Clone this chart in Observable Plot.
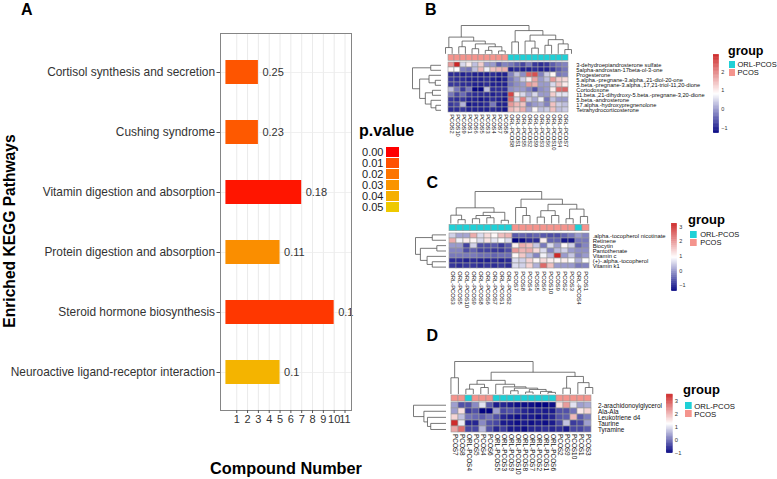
<!DOCTYPE html>
<html><head><meta charset="utf-8">
<script src="https://cdn.jsdelivr.net/npm/d3@7"></script>
<script src="https://cdn.jsdelivr.net/npm/@observablehq/plot@0.6"></script>
<style>
body{margin:0;background:#fff;}
#c{position:relative;width:777px;height:479px;overflow:hidden;background:#fff;}
#c svg{position:absolute;left:0;top:0;overflow:visible;max-width:none;}
</style></head><body><div id="c"></div><script>
// ---------- Panel A data ----------
const pathways = ["Cortisol synthesis and secretion","Cushing syndrome","Vitamin digestion and absorption","Protein digestion and absorption","Steroid hormone biosynthesis","Neuroactive ligand-receptor interaction"];
const compoundNumber = [3,3,7,5,10,5];
const pValue = [0.011,0.012,0.001,0.028,0.005,0.042];
const ratioLabel = ["0.25","0.23","0.18","0.11","0.1","0.1"];
const xTicks = [1,2,3,4,5,6,7,8,9,10,11];
const legendBreaks = [0,0.01,0.02,0.03,0.04,0.05];
const legendLabels = ["0.00","0.01","0.02","0.03","0.04","0.05"];

// ---------- Panel B data ----------
const bCols = ["PCOS2","PCOS10","PCOS9","PCOS1","PCOS6","PCOS5","PCOS3","PCOS4","PCOS7","PCOS8","ORL-PCOS8","ORL-PCOS1","ORL-PCOS5","ORL-PCOS2","ORL-PCOS9","ORL-PCOS3","ORL-PCOS6","ORL-PCOS10","ORL-PCOS4","ORL-PCOS7"];
const bRows = ["3-dehydroepiandrosterone sulfate","5alpha-androstan-17beta-ol-3-one","Progesterone","5.alpha.-pregnane-3.alpha.,21-diol-20-one","5.beta.-pregnane-3.alpha.,17,21-triol-11,20-dione","Cortodoxone","11.beta.,21-dihydroxy-5.beta.-pregnane-3,20-dione","5.beta.-androsterone","17.alpha.-hydroxypregnenolone","Tetrahydrocorticosterone"];
const bValues = [
 [1.8,2.9,0.5,1.0,0.3,1.3,0.0,0.0,-0.5,-0.2,-0.3,-0.5,-0.7,-0.3,-0.8,-0.9,-0.8,-0.5,-0.3,-0.2],
 [0.9,0.8,-0.2,-0.3,0.3,1.5,0.7,1.4,1.5,1.6,-1.0,-0.9,-1.0,-1.0,-0.9,-1.0,-1.0,-0.8,-0.5,-0.3],
 [-0.9,-0.9,-1.0,-0.9,-1.0,-1.0,-1.0,-0.9,-1.0,-1.0,-0.2,0.3,-0.1,2.3,2.5,-0.2,0.4,0.9,-0.3,-0.2],
 [-0.8,-0.9,-0.9,-1.0,-1.0,-1.0,-0.9,-1.0,-1.1,-1.0,-0.3,0.0,0.4,1.0,1.7,0.0,0.3,1.8,1.3,1.2],
 [-0.8,-0.8,-0.9,-0.9,-1.0,-1.0,-0.9,-1.0,-1.0,-1.0,-0.3,-0.1,0.0,1.8,1.6,0.0,0.0,0.5,1.4,1.0],
 [0.3,-0.3,-0.8,-0.3,-1.2,-1.2,0.3,-0.9,-0.9,-0.9,-0.1,0.0,0.0,-0.2,-0.6,-0.1,0.0,1.0,2.2,2.3],
 [-0.3,-0.7,-0.4,-0.8,-0.9,-0.9,-0.9,-1.0,-0.9,-1.0,2.6,1.0,0.5,0.1,0.5,0.0,0.0,1.3,0.6,0.6],
 [-0.8,-0.9,-0.8,-1.0,-1.0,-1.1,-1.0,-0.9,-1.0,-1.1,2.3,0.5,2.0,0.4,0.1,0.7,-0.3,0.3,0.0,0.0],
 [-0.8,-0.7,0.2,-1.1,-1.0,-1.0,-0.9,-0.3,-1.0,-1.0,1.8,1.5,1.4,-0.2,0.0,0.1,-0.2,1.4,0.4,0.3],
 [-0.9,-0.9,-0.8,-1.0,-1.0,-1.0,-1.0,-0.9,-1.0,-1.1,1.5,1.3,1.6,0.1,0.9,0.3,0.4,1.4,0.3,0.4]
];
const bRange = [-1.26, 2.9];
const bLegendTicks = [-1,0,1,2];
// dendrograms: [height, left, right], leaves = position index
const bColTree = [1,[0.59,[0.22,0,1],[0.45,[0.25,2,3],[0.35,[0.18,4,5],[0.25,[0.12,6,7],[0.1,8,9]]]]],[0.82,[0.42,10,11],[0.66,[0.45,12,[0.2,13,14]],[0.5,[0.3,15,16],[0.35,17,[0.15,18,19]]]]]];
const bRowTree = [1,[0.36,0,1],[0.75,[0.42,2,[0.2,3,4]],[0.55,[0.3,5,6],[0.35,7,[0.18,8,9]]]]];

// ---------- Panel C data ----------
const cCols = ["ORL-PCOS3","ORL-PCOS5","ORL-PCOS10","ORL-PCOS9","ORL-PCOS8","ORL-PCOS6","ORL-PCOS7","ORL-PCOS1","ORL-PCOS2","PCOS7","PCOS8","PCOS4","PCOS5","PCOS6","PCOS10","PCOS9","PCOS2","PCOS3","ORL-PCOS4","PCOS1"];
const cRows = [".alpha.-tocopherol nicotinate","Retinene","Biocytin","Pantothenate","Vitamin c","(+)-.alpha.-tocopherol","Vitamin k1"];
const cValues = [
 [0.5,0.1,0.1,1.8,0.6,1.3,1.0,1.6,1.7,-0.6,-0.5,-0.6,-0.5,-0.6,-0.7,-0.7,-0.5,-0.3,0.0,-0.2],
 [1.8,0.8,1.1,1.0,0.6,1.2,0.7,0.9,0.6,-1.4,-1.3,-1.0,-1.0,1.1,-0.5,-0.5,-1.2,-1.2,-0.3,-0.3],
 [0.0,0.0,-0.8,0.5,-0.7,-0.7,-0.6,-0.9,-0.6,1.1,1.8,1.6,0.4,-0.3,0.6,0.0,1.0,0.5,-0.5,-0.2],
 [-0.2,-0.2,-0.7,-0.5,-0.8,-0.8,-0.9,-0.9,-0.7,2.0,1.7,1.8,1.3,0.6,-0.2,0.3,0.5,0.0,-0.1,-0.1],
 [-0.3,-0.3,-0.3,-0.3,-0.4,-0.4,-0.5,-0.4,-0.4,1.0,1.5,0.3,-0.2,0.8,0.3,3.2,0.0,0.4,-0.2,0.0],
 [-1.0,-1.0,-1.1,-1.0,-1.1,-1.1,-1.0,-1.1,-1.0,0.6,0.5,1.4,1.0,1.3,1.1,1.0,1.1,0.9,0.2,0.9],
 [-0.9,-1.0,-0.9,-0.9,-1.0,-0.9,-1.0,-0.9,-1.0,0.6,0.5,1.4,0.2,2.5,1.6,0.0,0.0,0.0,-0.3,-0.2]
];
const cRange = [-1.4, 3.23];
const cLegendTicks = [-1,0,1,2,3];
const cColTree = [1,[0.49,[0.26,0,[0.12,1,2]],[0.35,[0.25,[0.15,3,4],[0.18,5,6]],[0.1,7,8]]],[0.76,[0.5,9,[0.25,10,11]],[0.6,[0.4,[0.2,12,13],[0.25,14,15]],[0.45,[0.15,16,17],[0.22,18,19]]]]];
const cRowTree = [1,[0.45,0,1],[0.84,[0.3,2,3],[0.62,4,[0.45,5,6]]]];

// ---------- Panel D data ----------
const dCols = ["PCOS7","PCOS8","ORL-PCOS4","PCOS5","PCOS4","PCOS6","ORL-PCOS5","ORL-PCOS3","ORL-PCOS9","ORL-PCOS10","ORL-PCOS8","ORL-PCOS7","ORL-PCOS2","ORL-PCOS1","ORL-PCOS6","PCOS2","PCOS9","PCOS10","PCOS1","PCOS3"];
const dRows = ["2-arachidonoylglycerol","Ala-Ala","Leukotriene d4","Taurine","Tyramine"];
const dValues = [
 [0.4,-0.3,-0.3,0.2,1.0,-0.2,-0.8,-0.7,-0.8,-0.9,-0.9,-0.9,-1.0,-1.0,-0.9,1.6,2.3,1.0,0.4,0.5],
 [0.4,1.6,-0.5,-0.3,-1.0,-1.0,0.4,-0.4,-0.3,-0.5,-0.7,-0.8,-0.7,-0.8,-0.8,-0.3,-0.3,0.0,1.5,1.7],
 [1.7,0.7,0.0,-0.1,-0.2,0.0,-0.3,-0.7,-0.8,-0.9,-0.8,-0.8,-0.9,-0.8,-0.7,-0.3,-0.2,2.0,-0.2,0.1],
 [3.5,1.1,-0.7,-0.7,0.2,-0.3,-0.4,-0.8,-0.8,-0.9,-0.8,-0.9,-0.8,-0.9,-0.8,-0.4,0.7,-0.5,-0.4,0.4],
 [2.2,2.8,-0.4,-0.4,0.6,-0.3,-0.7,-0.5,-0.8,-0.8,-0.9,-0.7,-0.7,-0.6,-0.7,-0.6,-0.8,-0.4,-0.4,-0.2]
];
const dRange = [-1.03, 3.55];
const dLegendTicks = [-1,0,1,2,3];
const dColTree = [1,[0.5,0,1],[0.67,[0.42,[0.3,[0.15,2,3],[0.2,4,5]],[0.3,6,[0.22,7,[0.18,[0.1,8,9],[0.14,[0.06,10,11],[0.08,12,[0.05,13,14]]]]]]],[0.54,[0.18,15,16],[0.35,17,[0.2,18,19]]]]];
const dRowTree = [1,0,[0.68,1,[0.57,2,[0.47,3,4]]]];

const groupNames = ["ORL-PCOS","PCOS"];
const groupColors = ["#1fd0d6","#f4948d"];

// ---------- helpers ----------
const F = "'Liberation Sans', Arial, Helvetica, sans-serif";
const W = 777, H = 479;
const root = document.getElementById("c");
const place = svg => root.appendChild(svg);
const box = (x0,x1,y0,y1) => ({width:W,height:H,marginLeft:x0,marginRight:W-x1,marginTop:y0,marginBottom:H-y1});
const st = (color="#000") => ({background:"transparent",fontFamily:F,color,overflow:"visible"});
const minus = d => d < 0 ? "\u2212" + (-d) : String(d);

function layoutTree(tree){
  const segs = [];
  (function rec(n){
    if (typeof n === "number") return {p:n+0.5,h:0};
    const [h,a,b] = n; const A = rec(a), B = rec(b);
    segs.push({p1:A.p,h1:A.h,p2:A.p,h2:h});
    segs.push({p1:B.p,h1:B.h,p2:B.p,h2:h});
    segs.push({p1:A.p,h1:h,p2:B.p,h2:h});
    return {p:(A.p+B.p)/2,h};
  })(tree);
  return segs;
}

// ---------- Panel A ----------
const pColor = {type:"linear", domain:[0,0.05], range:["#ff0000","#eec900"], interpolate:"lab"};
const aData = pathways.map((p,i)=>({pathway:p,n:compoundNumber[i],p:pValue[i],label:ratioLabel[i]}));
place(Plot.plot({...box(220,351,33,410), style:st("#333"),
  x:{domain:[-0.5,11.6], axis:null},
  y:{domain:pathways, paddingInner:0.6, paddingOuter:0.4, axis:null},
  color:pColor,
  marks:[
    Plot.gridX(xTicks,{stroke:"#e4e4e4",strokeOpacity:1,strokeWidth:0.8}),
    Plot.gridY({stroke:"#ececec",strokeOpacity:1,strokeWidth:0.8}),
    Plot.barX(aData,{x:"n",y:"pathway",fill:"p"}),
    Plot.text(aData,{x:"n",y:"pathway",text:"label",dx:4,textAnchor:"start",fontSize:11,fill:"#333"}),
    Plot.frame({stroke:"#858585"}),
    Plot.axisX(xTicks,{tickSize:3,tickPadding:1.5,fontSize:11,label:null,tickFormat:d=>String(d),stroke:"#555"}),
    Plot.axisY({tickSize:3.5,tickPadding:2,fontSize:11.9,label:null,stroke:"#555"})
  ]}));
// legend A
const legData = legendBreaks.map((v,i)=>({label:legendLabels[i],p:v}));
place(Plot.plot({...box(386,399,145.4,213), style:st("#222"),
  y:{domain:legendLabels, paddingInner:0.08, paddingOuter:0.04, axis:null},
  x:{axis:null},
  color:pColor,
  marks:[
    Plot.cell(legData,{y:"label",fill:"p"}),
    Plot.axisY({anchor:"left",tickSize:0,tickPadding:3,fontSize:11,label:null})
  ]}));

// ---------- heatmaps ----------
const groupColor = {domain:groupNames, range:groupColors};
function heatmap(cfg){
  const {cols, rows, values, range:[vmin,vmax], cx, cy, ay, ty, rx, colTree, rowTree, lx, ly, ticks, gx, gy, fs, gfs, gpad, lfs} = cfg;
  const heatColor = {type:"linear", domain:[vmin,(vmin+vmax)/2,vmax], range:["#000080","#ffffff","#cd2626"], interpolate:"rgb"};
  const groups = cols.map(c => c.startsWith("ORL") ? "ORL-PCOS" : "PCOS");
  const cellsData = rows.flatMap((r,i)=>cols.map((c,j)=>({row:r,col:c,v:values[i][j]})));
  place(Plot.plot({...box(cx[0],cx[1],cy[0],cy[1]), style:st("#111"),
    x:{domain:cols,padding:0,axis:null}, y:{domain:rows,padding:0,axis:null}, color:heatColor,
    marks:[
      Plot.cell(cellsData,{x:"col",y:"row",fill:"v",stroke:"#9a9a9a",strokeWidth:0.6}),
      Plot.axisX({anchor:"bottom",tickRotate:90,tickSize:0,tickPadding:1.5,fontSize:fs,label:null}),
      Plot.axisY({anchor:"right",tickSize:0,tickPadding:1.5,fontSize:fs,label:null})
    ]}));
  const annoData = cols.map((c,j)=>({col:c,group:groups[j]}));
  place(Plot.plot({...box(cx[0],cx[1],ay[0],ay[1]), style:st(),
    x:{domain:cols,padding:0,axis:null}, y:{axis:null}, color:groupColor,
    marks:[Plot.cell(annoData,{x:"col",fill:"group",stroke:"#9a9a9a",strokeWidth:0.6})]}));
  place(Plot.plot({...box(cx[0],cx[1],ty[0],ty[1]), style:st(),
    x:{domain:[0,cols.length],axis:null}, y:{domain:[0,1],axis:null},
    marks:[Plot.link(layoutTree(colTree),{x1:"p1",y1:"h1",x2:"p2",y2:"h2",stroke:"#555",strokeWidth:0.8})]}));
  place(Plot.plot({...box(rx[0],rx[1],cy[0],cy[1]), style:st(),
    x:{domain:[1,0],axis:null}, y:{domain:[rows.length,0],axis:null},
    marks:[Plot.link(layoutTree(rowTree),{x1:"h1",y1:"p1",x2:"h2",y2:"p2",stroke:"#555",strokeWidth:0.8})]}));
  const n = 100;
  const steps = d3.range(n).map(i=>({a:vmin+(vmax-vmin)*i/n, b:vmin+(vmax-vmin)*(i+1)/n}));
  place(Plot.plot({...box(lx[0],lx[1],ly[0],ly[1]), style:st("#333"),
    y:{domain:[vmin,vmax],axis:null}, x:{axis:null}, color:heatColor,
    marks:[
      Plot.barY(steps,{y1:"a",y2:"b",fill:d=>(d.a+d.b)/2,stroke:d=>(d.a+d.b)/2,strokeWidth:0.4}),
      Plot.axisY(ticks,{anchor:"right",tickSize:0,tickPadding:2,fontSize:lfs,label:null,tickFormat:minus})
    ]}));
  place(Plot.plot({...box(gx[0],gx[1],gy[0],gy[1]), style:st("#111"),
    y:{domain:groupNames,paddingInner:0.14,paddingOuter:0,axis:null}, x:{axis:null}, color:groupColor,
    marks:[
      Plot.cell(groupNames,{y:d=>d,fill:d=>d}),
      Plot.axisY({anchor:"right",tickSize:0,tickPadding:gpad,fontSize:gfs,label:null})
    ]}));
}

heatmap({cols:bCols, rows:bRows, values:bValues, range:bRange, ticks:bLegendTicks,
  cx:[441.7,574.3], cy:[62.3,112.3], ay:[54.3,60.3], ty:[25,53.3], rx:[412,440.5],
  colTree:bColTree, rowTree:bRowTree, lx:[713.3,718.7], ly:[54.3,132.7],
  gx:[729,735], gy:[61,76], fs:5.7, gfs:7.5, gpad:2, lfs:5.5});
heatmap({cols:cCols, rows:cRows, values:cValues, range:cRange, ticks:cLegendTicks,
  cx:[446.7,590.7], cy:[231.7,269.3], ay:[224.3,230.7], ty:[191,223], rx:[415,445.5],
  colTree:cColTree, rowTree:cRowTree, lx:[671.7,676.7], ly:[223.3,290.7],
  gx:[690,696.7], gy:[230,246], fs:5.8, gfs:7.5, gpad:3, lfs:5.5});
heatmap({cols:dCols, rows:dRows, values:dValues, range:dRange, ticks:dLegendTicks,
  cx:[446.7,596], cy:[401.7,432], ay:[395,401], ty:[361,393.5], rx:[413,445.5],
  colTree:dColTree, rowTree:dRowTree, lx:[666.7,672.3], ly:[394,452.7],
  gx:[685,691.7], gy:[401,417.7], fs:6.4, gfs:7.8, gpad:2, lfs:5.8});

// ---------- titles ----------
const ann = d3.create("svg").attr("width",W).attr("height",H).style("font-family",F);
function label(t,x,y,size,o={}){
  const e = ann.append("text").attr("x",x).attr("y",y).attr("font-size",size)
    .attr("font-weight","bold").attr("fill","#000").text(t);
  if (o.anchor) e.attr("text-anchor",o.anchor);
  if (o.rotate) e.attr("transform",`rotate(${o.rotate},${x},${y})`);
}
label("A",21,15,16);
label("B",425,15,16);
label("C",426.5,188,16);
label("D",426.5,340.5,16);
label("p.value",359,135.5,16);
label("Enriched KEGG Pathways",15,231,15.6,{anchor:"middle",rotate:-90});
label("Compound Number",286,474,16.3,{anchor:"middle"});
label("group",728,55,12.5);
label("group",688,223.5,13);
label("group",683,394,13);
place(ann.node());
</script></body></html>
